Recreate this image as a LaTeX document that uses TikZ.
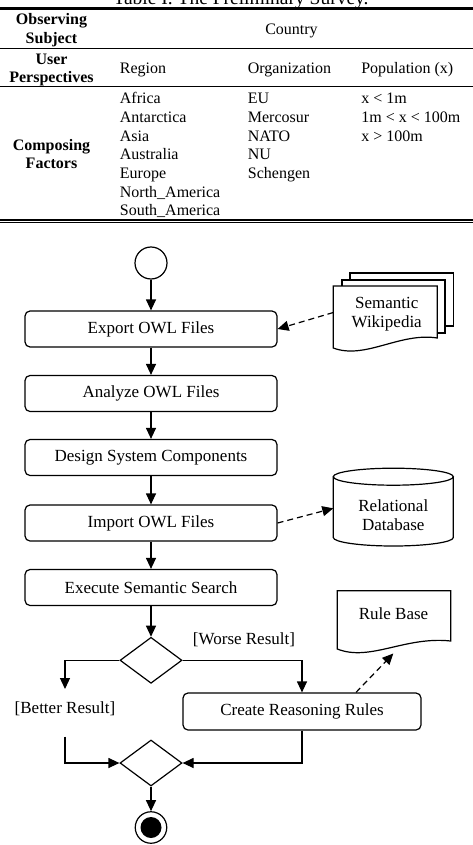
\documentclass[tikz,border=0pt]{standalone}
\usepackage{fontspec}
\setmainfont{Liberation Serif}
\usetikzlibrary{arrows.meta,shapes.geometric,calc}
\begin{document}
\begin{tikzpicture}[x=1pt,y=-1pt,
  line width=1.2pt,
  arr/.style={-{Triangle[width=10pt,length=11pt]}},
  dasharr/.style={arr,dash pattern=on 6pt off 4pt},
  act/.style={draw,rounded corners=5pt,minimum width=252pt,minimum height=36pt,inner sep=0pt,font=\fontsize{17}{19}\selectfont},
  dec/.style={draw,diamond,minimum width=62pt,minimum height=46pt,inner sep=0pt},
  lbl/.style={font=\fontsize{17}{19}\selectfont,align=center,inner sep=0pt},
  tb/.style={font=\fontsize{16}{18.5}\selectfont,inner sep=0pt},
  tbh/.style={font=\fontsize{16}{18.5}\selectfont\bfseries,inner sep=0pt},
  rule/.style={line width=1pt},
]
\useasboundingbox (0,0) rectangle (473,845);
% ---------- table ----------
\node[anchor=base,font=\fontsize{19.5}{22}\selectfont,inner sep=0pt] (cap) at (241,4.5) {Table I. The Preliminary Survey.};
\draw[line width=3pt] (0,8.3) -- (473,8.3);
\draw[rule] (0,49) -- (473,49);
\draw[rule] (0,86.7) -- (473,86.7);
\draw[line width=1.4pt] (0,219.8) -- (473,219.8);
\draw[rule] (0,222.8) -- (473,222.8);
\node[tbh,anchor=base] (h1a) at (51.5,25) {Observing};
\node[tbh,anchor=base] (h1b) at (51.5,43.3) {Subject};
\node[tb,anchor=base] (country) at (291.5,35) {Country};
\node[tbh,anchor=base] (h2a) at (51.5,65) {User};
\node[tbh,anchor=base] (h2b) at (51.5,82.3) {Perspectives};
\node[tb,anchor=base west] (region) at (119.3,74) {Region};
\node[tb,anchor=base west] (org) at (247.3,74) {Organization};
\node[tb,anchor=base west] (pop) at (360.7,74) {Population (x)};
\node[tbh,anchor=base] (h3a) at (51.5,150.8) {Composing};
\node[tbh,anchor=base] (h3b) at (51.5,168.6) {Factors};
\foreach \t [count=\i from 0] in {Africa,Antarctica,Asia,Australia,Europe,North\_America,South\_America}
  \node[tb,anchor=base west] (r\i) at (119.3,104+18.6*\i) {\t};
\foreach \t [count=\i from 0] in {EU,Mercosur,NATO,NU,Schengen}
  \node[tb,anchor=base west] (o\i) at (247.3,104+18.6*\i) {\t};
\foreach \t [count=\i from 0] in {x < 1m,1m < x < 100m,x > 100m}
  \node[tb,anchor=base west] (p\i) at (360.7,104+18.6*\i) {\t};
% ---------- flow ----------
\node[draw,circle,minimum size=32pt,inner sep=0pt] (start) at (151,263) {};
\node[act] (export) at (151,329) {Export OWL Files};
\node[act] (analyze) at (151,393.5) {Analyze OWL Files};
\node[act] (design) at (151,457.5) {Design System Components};
\node[act] (import) at (151,523) {Import OWL Files};
\node[act] (exec) at (151,587.5) {Execute Semantic Search};
\node[dec] (d1) at (151,660.3) {};
\node[act,minimum width=238pt,minimum height=37pt] (create) at (302,711.5) {Create Reasoning Rules};
\node[dec] (d2) at (151,763) {};
\node[draw,circle,minimum size=31.5pt,inner sep=0pt] (end) at (151,827.5) {};
\node[fill,circle,minimum size=21pt,inner sep=0pt] (endin) at (151,827.5) {};
\node[lbl] (worse) at (244,640) {[Worse Result]};
\node[lbl] (better) at (65,709) {[Better Result]};
\draw[arr] (start) -- (export);
\draw[arr] (export) -- (analyze);
\draw[arr] (analyze) -- (design);
\draw[arr] (design) -- (import);
\draw[arr] (import) -- (exec);
\draw[arr] (exec) -- (d1);
\coordinate (bl1) at (65,689);
\draw[arr] (d1.west) -| (bl1);
\draw[arr] (d1.east) -| (create.north);
\coordinate (bl2) at (65,736.7);
\draw[arr] (bl2) |- (d2.west);
\draw[arr] (create.south) |- (d2.east);
\draw[arr] (d2) -- (end);
% ---------- Semantic Wikipedia ----------
\draw (350,280) -- (350,273) -- (453.7,273) -- (453.7,326) -- (445,326);
\draw (342,286) -- (342,280) -- (445,280) -- (445,333) -- (437.3,333);
\draw (333.3,286) -- (437.3,286) -- (437.3,338) .. controls (400,332) and (365,360) .. (333.3,348) -- cycle;
\node[lbl] (wiki) at (386.7,314.5) {Semantic\\Wikipedia};
\coordinate (wikiL) at (333.3,312.5);
\draw[dasharr] (wikiL) -- (export.east);
% ---------- Relational Database ----------
\draw (333.3,476.7) -- (333.3,537.5) arc[start angle=180,end angle=0,x radius=60,y radius=8.5] -- (453.3,476.7);
\draw (393.3,476.7) ellipse [x radius=60,y radius=8.5];
\node[lbl] (db) at (393.3,515.5) {Relational\\Database};
\coordinate (dbL) at (333.3,508.3);
\draw[dasharr] (import.east) -- (dbL);
% ---------- Rule Base ----------
\draw (337.3,590.7) -- (450.7,590.7) -- (450.7,641) .. controls (405,636) and (370,662) .. (337.3,649) -- cycle;
\node[lbl] (rb) at (393.5,613.5) {Rule Base};
\coordinate (rbB) at (393.3,653.5);
\draw[dasharr] ($(create.north)+(54,0)$) -- (rbB);
\end{tikzpicture}
\end{document}
